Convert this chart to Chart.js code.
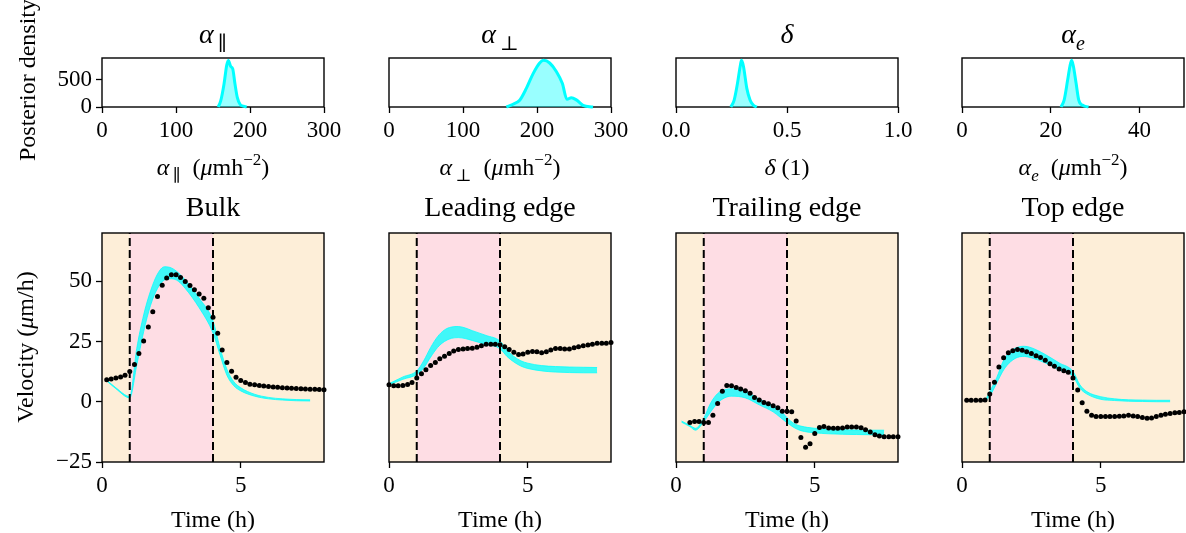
<!DOCTYPE html>
<html>
<head>
<meta charset="utf-8">
<script src="https://cdn.jsdelivr.net/npm/chart.js@4.4.1/dist/chart.umd.min.js"></script>
<style>
  html, body { margin: 0; padding: 0; background: #fff; width: 1186px; height: 533px; overflow: hidden; }
  canvas { position: absolute; }
</style>
</head>
<body>
<script>
// ---- observed velocities (one dot every 10 min) ----
const OBS_T = [0, 0.17, 0.33, 0.5, 0.67, 0.83, 1, 1.17, 1.33, 1.5, 1.67, 1.83, 2, 2.17, 2.33, 2.5,
  2.67, 2.83, 3, 3.17, 3.33, 3.5, 3.67, 3.83, 4, 4.17, 4.33, 4.5, 4.67, 4.83, 5, 5.17, 5.33, 5.5,
  5.67, 5.83, 6, 6.17, 6.33, 6.5, 6.67, 6.83, 7, 7.17, 7.33, 7.5, 7.67, 7.83, 8];

const BULK_OBS = [null, 9.1, 9.4, 9.8, 10.3, 11.0, 12.5, 15.4, 20.0, 25.2, 31.0, 37.3, 43.7, 48.3,
  51.3, 52.7, 52.7, 51.5, 49.9, 48.2, 46.5, 44.7, 42.9, 39.0, 35.1, 28.4, 21.5, 16.3, 12.6, 10.2,
  8.8, 8.0, 7.3, 7.0, 6.7, 6.5, 6.3, 6.1, 6.0, 5.8, 5.7, 5.6, 5.5, 5.4, 5.3, 5.2, 5.2, 5.1, 5.0];
const LEAD_OBS = [7.0, 6.6, 6.6, 6.7, 7.1, 8.0, 9.8, 11.6, 13.3, 15.0, 16.3, 17.8, 18.9, 20.0, 21.0,
  21.7, 21.9, 22.1, 22.2, 22.6, 23.2, 23.8, 23.9, 23.8, 23.6, 22.8, 21.7, 20.5, 19.6, 19.8, 20.5,
  20.8, 20.7, 20.3, 20.7, 21.5, 22.1, 22.1, 21.9, 21.9, 22.4, 22.8, 23.2, 23.5, 23.9, 24.3, 24.3, 24.3, 24.6];
const TRAIL_OBS = [null, null, null, -8.6, -8.2, -8.2, -8.6, -8.6, -5.6, -0.7, 4.4, 6.7, 6.6, 5.9,
  5.3, 4.6, 3.5, 1.8, 0.7, -0.3, -0.8, -1.7, -2.5, -3.9, -3.9, -4.2, -8.0, -14.8, -18.9, -17.4,
  -13.2, -10.7, -10.3, -10.9, -11.0, -11.0, -10.9, -10.5, -10.5, -10.5, -10.8, -11.6, -12.6,
  -13.7, -14.2, -14.5, -14.5, -14.5, -14.5];
const TOPE_OBS = [null, 0.6, 0.6, 0.6, 0.6, 0.7, 3.2, 8.1, 14.4, 18.2, 20.3, 21.2, 21.7, 21.4, 20.7,
  20.0, 19.1, 18.3, 17.2, 15.8, 14.7, 13.6, 12.9, 12.2, 9.8, 4.9, -0.4, -3.9, -5.6, -6.1, -6.1,
  -6.1, -6.1, -6.1, -6.0, -5.9, -5.6, -5.9, -6.1, -6.5, -6.8, -6.7, -6.1, -5.6, -5.2, -4.9,
  -4.6, -4.5, -4.2];

// ---- model fit envelope (upper / lower) ----
const BULK_FIT_T = [0.17, 0.5, 1.0, 1.25, 1.5, 1.75, 2.0, 2.25, 2.5, 2.75, 3.0, 3.5, 4.0, 4.25, 4.5, 4.75, 5.0, 5.5, 6.0, 6.5, 7.0, 7.5];
const BULK_HI = [9.0, 5.8, 2.2, 22, 36, 46, 53, 56, 55.5, 53.5, 50.5, 43, 33.5, 22.5, 13.5, 8.3, 5.8, 3.1, 1.8, 1.2, 0.9, 0.8];
const BULK_LO = [8.6, 5.4, 1.6, 15, 29, 40, 47, 50.5, 51, 50, 47, 39, 28.5, 19.5, 11, 6.6, 4.5, 2.3, 1.2, 0.7, 0.4, 0.3];

const LEAD_FIT_T = [0, 0.5, 1.0, 1.25, 1.5, 1.75, 2.0, 2.25, 2.5, 2.75, 3.0, 3.5, 4.0, 4.25, 4.5, 4.75, 5.0, 5.5, 6.0, 6.5, 7.0, 7.5];
const LEAD_HI = [7.5, 10.3, 12.8, 17, 22.5, 27, 29.8, 31.0, 31.2, 30.6, 29.5, 27.5, 25.2, 21.5, 18.8, 17.0, 16.0, 15.0, 14.6, 14.4, 14.3, 14.2];
const LEAD_LO = [7.0, 9.3, 11.3, 14, 18.5, 22.5, 25, 26.3, 26.6, 26.2, 25.4, 23.8, 22.0, 18.8, 16.5, 14.8, 13.8, 12.8, 12.3, 12.1, 12.0, 12.0];

const TRAIL_FIT_T = [0.2, 0.5, 0.7, 1.0, 1.25, 1.5, 1.75, 2.0, 2.5, 3.0, 3.5, 3.75, 4.0, 4.25, 4.5, 5.0, 5.5, 6.0, 6.5, 7.0, 7.5];
const TRAIL_HI = [-8.0, -9.8, -11.0, -6.8, -0.5, 3.4, 5.0, 5.4, 4.3, 1.1, -1.7, -3.4, -6.6, -9.0, -10.1, -11.0, -11.4, -11.6, -11.7, -11.8, -11.8];
const TRAIL_LO = [-8.5, -10.3, -11.8, -8.3, -4.2, -0.5, 1.6, 2.3, 1.6, -1.3, -4.2, -6.4, -8.7, -10.7, -12.0, -12.9, -13.3, -13.5, -13.6, -13.7, -13.7];

const TOPE_FIT_T = [0.85, 1.0, 1.25, 1.5, 1.75, 2.0, 2.25, 2.5, 3.0, 3.5, 4.0, 4.25, 4.5, 5.0, 5.5, 6.0, 6.5, 7.0, 7.5];
const TOPE_HI = [0.8, 4.2, 10.0, 17.2, 20.9, 22.6, 23.0, 22.4, 19.6, 16.1, 12.6, 7.0, 4.2, 2.1, 1.2, 0.8, 0.7, 0.6, 0.6];
const TOPE_LO = [0.4, 2.3, 7.7, 13.2, 16.6, 18.4, 18.8, 18.2, 16.1, 13.2, 10.5, 5.6, 3.2, 1.0, 0.5, 0.2, 0.1, 0.0, 0.0];

// ---- posterior densities ----
const ALPAR_X = [157, 160.4, 164.9, 168.5, 170.7, 173.9, 176.6, 179.7, 182.9, 186.5, 191, 195.5];
const ALPAR_D = [0, 110, 420, 760, 850, 740, 700, 420, 170, 50, 15, 0];
const ALPERP_X = [158.6, 167.6, 176.6, 185.6, 194.6, 203.6, 209, 217.1, 226.1, 234.2, 240.5, 246.4, 253.2, 262.2, 275.7];
const ALPERP_D = [0, 50, 124, 340, 605, 803, 851, 803, 648, 432, 140, 170, 130, 31, 0];
const DELTA_X = [0.247, 0.262, 0.277, 0.289, 0.295, 0.304, 0.319, 0.334, 0.349, 0.364];
const DELTA_D = [0, 124, 432, 740, 851, 740, 340, 124, 31, 0];
const ALE_X = [22.3, 23.0, 23.8, 24.3, 24.7, 25.1, 25.7, 26.3, 27.2, 28.5];
const ALE_D = [0, 124, 495, 740, 851, 740, 432, 124, 31, 0];

// ---- axes ----
const TIME_RANGE = [0, 8];
const TIME_TICKS = [0, 5];
const TIME_TICK_LABELS = ['0', '5'];
const VEL_RANGE = [-25, 70];
const VEL_TICKS = [-25, 0, 25, 50];
const VEL_TICK_LABELS = ['\u221225', '0', '25', '50'];
const PHASE_EDGES = [0, 1, 4, 8];
const STIM_TIMES = [1, 4];
const DENS_RANGE = [0, 894];
const DENS_TICKS = [0, 500];
const DENS_TICK_LABELS = ['0', '500'];
const PAR_RANGES = [[0, 300], [0, 300], [0, 1], [0, 50]];
const PAR_TICKS = [[0, 100, 200, 300], [0, 100, 200, 300], [0, 0.5, 1], [0, 20, 40]];
const PAR_TICK_LABELS = [['0', '100', '200', '300'], ['0', '100', '200', '300'], ['0.0', '0.5', '1.0'], ['0', '20', '40']];
const PANEL_NAMES = ['Bulk', 'Leading edge', 'Trailing edge', 'Top edge'];

// rich text pieces (it: italic, sub / sup)
const PAR_TITLES = [
  [{ t: '\u03b1', it: 1 }, { t: '\u2009\u2225', sub: 1 }],
  [{ t: '\u03b1', it: 1 }, { t: '\u2009\u22a5', sub: 1 }],
  [{ t: '\u03b4', it: 1 }],
  [{ t: '\u03b1', it: 1 }, { t: 'e', it: 1, sub: 1 }]
];
const UNIT = [{ t: '\u2002(' }, { t: '\u03bc', it: 1 }, { t: 'mh' }, { t: '\u22122', sup: 1 }, { t: ')' }];
const PAR_LABELS = [
  [...PAR_TITLES[0], ...UNIT],
  [...PAR_TITLES[1], ...UNIT],
  [{ t: '\u03b4', it: 1 }, { t: ' (1)' }],
  [...PAR_TITLES[3], ...UNIT]
];
const TIME_LABEL = [{ t: 'Time (h)' }];
const VEL_LABEL = [{ t: 'Velocity (' }, { t: '\u03bc', it: 1 }, { t: 'm/h)' }];
const DENS_LABEL = [{ t: 'Posterior density' }];

// ---- look ----
const FONT = '"Liberation Serif", "DejaVu Serif", serif';
const BEIGE = '#fdeed8';
const PINK = '#fedde4';
const BAND = 'rgba(0,255,255,0.75)';
const PANEL_LEFT = [102, 389, 676, 962];
const PANEL_W = 222;
const PAD_L = 100, PAD_R = 30;
const TICK_SIZE = 23, LABEL_SIZE = 24, TITLE_SIZE = 28;

const pts = (xs, ys) => xs.map((x, i) => ({ x, y: ys[i] })).filter(p => p.y !== null);

function drawRich(ctx, segs, x, y, size) {
  const parts = segs.map(s => {
    const fs = (s.sub || s.sup) ? Math.round(size * 0.7) : size;
    const font = (s.it ? 'italic ' : '') + fs + 'px ' + FONT;
    ctx.font = font;
    return { t: s.t, font, w: ctx.measureText(s.t).width, dy: s.sub ? size * 0.24 : s.sup ? -size * 0.4 : 0 };
  });
  const total = parts.reduce((a, p) => a + p.w, 0);
  let cx = x - total / 2;
  ctx.textAlign = 'left';
  ctx.textBaseline = 'alphabetic';
  ctx.fillStyle = '#000';
  parts.forEach(p => { ctx.font = p.font; ctx.fillText(p.t, cx, y + p.dy); cx += p.w; });
}

const framePlugin = {
  id: 'frame',
  beforeDatasetsDraw(chart, args, opts) {
    const { ctx, chartArea: a, scales: { x } } = chart;
    ctx.save();
    if (opts.edges) {
      for (let i = 0; i < opts.edges.length - 1; i++) {
        const x0 = x.getPixelForValue(opts.edges[i]);
        const x1 = x.getPixelForValue(opts.edges[i + 1]);
        ctx.fillStyle = opts.colors[i];
        ctx.fillRect(x0, a.top, x1 - x0, a.bottom - a.top);
      }
    }
    ctx.strokeStyle = '#000';
    ctx.lineWidth = 1.4;
    ctx.strokeRect(a.left, a.top, a.right - a.left, a.bottom - a.top);
    ctx.restore();
  }
};

const textPlugin = {
  id: 'panelText',
  afterDraw(chart, args, o) {
    const { ctx, chartArea: a } = chart;
    const cx = (a.left + a.right) / 2;
    ctx.save();
    if (o.title) drawRich(ctx, o.title, cx, a.top - o.titleGap, TITLE_SIZE);
    if (o.xlabel) drawRich(ctx, o.xlabel, cx, a.bottom + o.xlabelGap, LABEL_SIZE);
    if (o.ylabel) {
      ctx.translate(a.left - o.ylabelGap, o.ylabelMid - chart.canvas.offsetTop);
      ctx.rotate(-Math.PI / 2);
      drawRich(ctx, o.ylabel, 0, 0, LABEL_SIZE);
    }
    ctx.restore();
  }
};

function axisX(range, ticks, labels, height) {
  return {
    type: 'linear', min: range[0], max: range[1],
    afterBuildTicks: s => { s.ticks = ticks.map(v => ({ value: v })); },
    afterFit: s => { s.height = height; },
    grid: { drawOnChartArea: false, drawTicks: true, tickLength: 6, tickColor: '#000', tickWidth: 1.3, color: '#000' },
    border: { display: false },
    ticks: { color: '#000', padding: 4, maxRotation: 0, autoSkip: false, font: { family: FONT, size: TICK_SIZE },
      callback: (v, i) => labels[i] }
  };
}

function axisY(range, ticks, labels, show) {
  return {
    type: 'linear', min: range[0], max: range[1],
    afterBuildTicks: s => { s.ticks = show ? ticks.map(v => ({ value: v })) : []; },
    afterFit: s => { s.width = PAD_L; },
    grid: { drawOnChartArea: false, drawTicks: show, tickLength: 6, tickColor: '#000', tickWidth: 1.3, color: '#000' },
    border: { display: false },
    ticks: { display: show, color: '#000', padding: 4, font: { family: FONT, size: TICK_SIZE },
      callback: (v, i) => labels[i] }
  };
}

function addCanvas(left, top, w, h) {
  const c = document.createElement('canvas');
  c.width = w; c.height = h;
  c.style.left = left + 'px'; c.style.top = top + 'px';
  c.style.width = w + 'px'; c.style.height = h + 'px';
  document.body.appendChild(c);
  return c;
}

// ---- top row: posterior densities ----
const DENS_X = [ALPAR_X, ALPERP_X, DELTA_X, ALE_X];
const DENS_Y = [ALPAR_D, ALPERP_D, DELTA_D, ALE_D];

DENS_X.forEach((xs, p) => {
  const top = 0, padTop = 58, plotH = 49, h = 190;
  const cv = addCanvas(PANEL_LEFT[p] - PAD_L, top, PAD_L + PANEL_W + PAD_R, h);
  new Chart(cv, {
    type: 'scatter',
    data: { datasets: [{
      data: pts(xs, DENS_Y[p]), showLine: true, pointRadius: 0, borderColor: '#00ffff', borderWidth: 3,
      cubicInterpolationMode: 'monotone', fill: 'origin', backgroundColor: 'rgba(0,255,255,0.4)', clip: 3
    }] },
    options: {
      responsive: false, animation: false, devicePixelRatio: 1, events: [],
      layout: { padding: { top: padTop, right: PAD_R, left: 0, bottom: 0 } },
      plugins: {
        legend: { display: false }, tooltip: { enabled: false },
        panelText: {
          title: PAR_TITLES[p], titleGap: 15,
          xlabel: PAR_LABELS[p], xlabelGap: 68,
          ylabel: p === 0 ? DENS_LABEL : null, ylabelGap: 67, ylabelMid: 80
        }
      },
      scales: {
        x: axisX(PAR_RANGES[p], PAR_TICKS[p], PAR_TICK_LABELS[p], h - padTop - plotH),
        y: axisY(DENS_RANGE, DENS_TICKS, DENS_TICK_LABELS, p === 0)
      }
    },
    plugins: [framePlugin, textPlugin]
  });
});

// ---- bottom row: velocities ----
const VEL_OBS = [BULK_OBS, LEAD_OBS, TRAIL_OBS, TOPE_OBS];
const FIT_T = [BULK_FIT_T, LEAD_FIT_T, TRAIL_FIT_T, TOPE_FIT_T];
const FIT_HI = [BULK_HI, LEAD_HI, TRAIL_HI, TOPE_HI];
const FIT_LO = [BULK_LO, LEAD_LO, TRAIL_LO, TOPE_LO];

VEL_OBS.forEach((obs, p) => {
  const top = 190, padTop = 43, plotH = 229, h = 343;
  const cv = addCanvas(PANEL_LEFT[p] - PAD_L, top, PAD_L + PANEL_W + PAD_R, h);
  const dashed = STIM_TIMES.map(t => ({
    data: [{ x: t, y: VEL_RANGE[0] }, { x: t, y: VEL_RANGE[1] }], showLine: true, pointRadius: 0,
    borderColor: '#000', borderWidth: 2, borderDash: [8, 4], order: 1
  }));
  new Chart(cv, {
    type: 'scatter',
    data: { datasets: [
      { data: pts(FIT_T[p], FIT_HI[p]), showLine: true, pointRadius: 0, borderColor: BAND, borderWidth: 1,
        cubicInterpolationMode: 'monotone', order: 2 },
      { data: pts(FIT_T[p], FIT_LO[p]), showLine: true, pointRadius: 0, borderColor: BAND, borderWidth: 1,
        cubicInterpolationMode: 'monotone', fill: '-1', backgroundColor: BAND, order: 2 },
      ...dashed,
      { data: pts(OBS_T, obs), pointRadius: 2.5, pointBackgroundColor: '#000', pointBorderWidth: 0, order: 0, clip: 4 }
    ] },
    options: {
      responsive: false, animation: false, devicePixelRatio: 1, events: [],
      layout: { padding: { top: padTop, right: PAD_R, left: 0, bottom: 0 } },
      plugins: {
        legend: { display: false }, tooltip: { enabled: false },
        frame: { edges: PHASE_EDGES, colors: [BEIGE, PINK, BEIGE] },
        panelText: {
          title: [{ t: PANEL_NAMES[p] }], titleGap: 17,
          xlabel: TIME_LABEL, xlabelGap: 65,
          ylabel: p === 0 ? VEL_LABEL : null, ylabelGap: 69, ylabelMid: 347
        }
      },
      scales: {
        x: axisX(TIME_RANGE, TIME_TICKS, TIME_TICK_LABELS, h - padTop - plotH),
        y: axisY(VEL_RANGE, VEL_TICKS, VEL_TICK_LABELS, p === 0)
      }
    },
    plugins: [framePlugin, textPlugin]
  });
});
</script>
</body>
</html>
